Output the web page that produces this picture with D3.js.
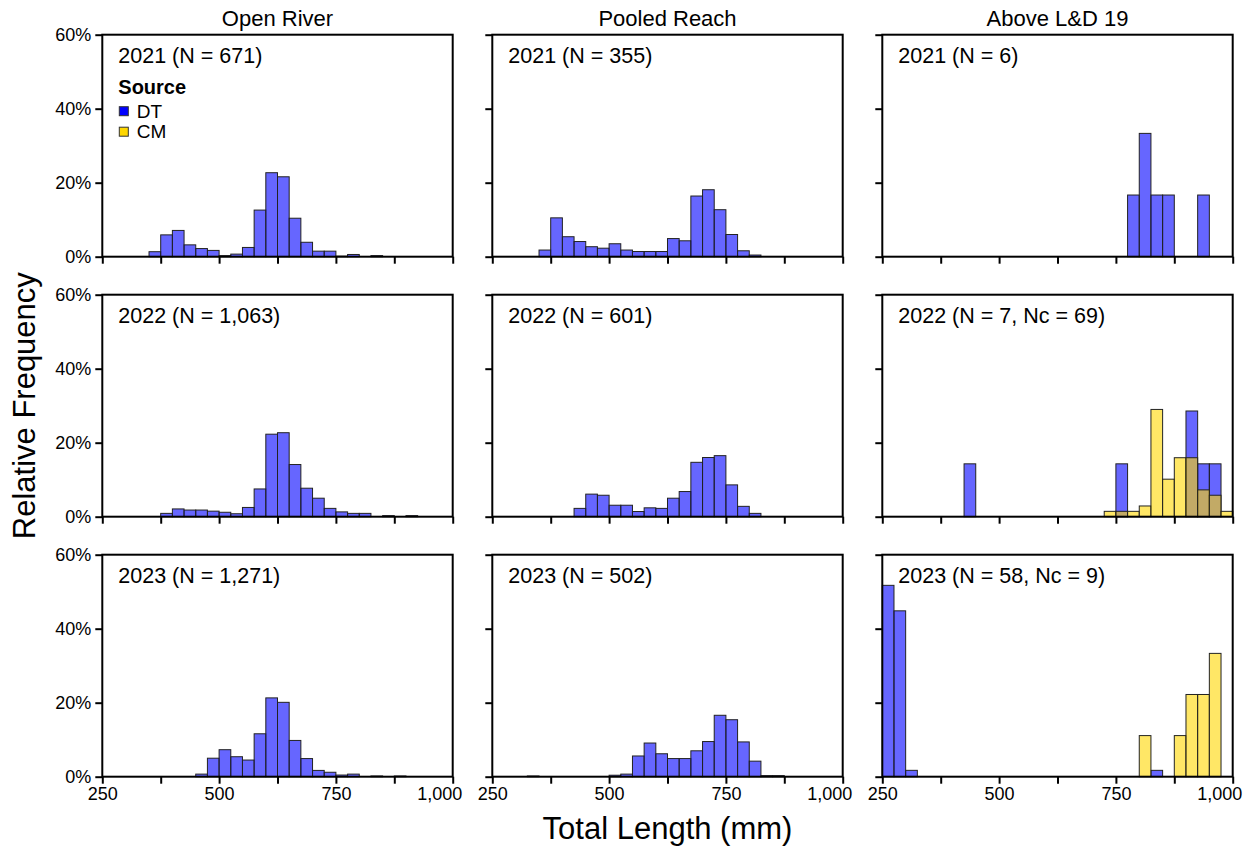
<!DOCTYPE html>
<html>
<head>
<meta charset="utf-8">
<script src="https://cdn.jsdelivr.net/npm/d3@7"></script>
<style>
  html, body { margin: 0; padding: 0; background: #fff; }
  svg { display: block; font-family: "Liberation Sans", Arial, sans-serif; }
</style>
</head>
<body>
<svg id="chart" width="1253" height="848"></svg>
<script>
// Length bins (lower edge, mm); every bin is 25 mm wide
const binStarts = [250, 275, 300, 325, 350, 375, 400, 425, 450, 475,
                   500, 525, 550, 575, 600, 625, 650, 675, 700, 725,
                   750, 775, 800, 825, 850, 875, 900, 925, 950, 975];
const binWidth = 25;

const reaches = ["Open River", "Pooled Reach", "Above L&D 19"];
const years = [2021, 2022, 2023];
const xTicks = [250, 375, 500, 625, 750, 875, 1000];
const xTickLabels = [250, 500, 750, 1000];
const yTicks = [0, 20, 40, 60];

const panelLabels = [
  ["2021 (N = 671)", "2021 (N = 355)", "2021 (N = 6)"],
  ["2022 (N = 1,063)", "2022 (N = 601)", "2022 (N = 7, Nc = 69)"],
  ["2023 (N = 1,271)", "2023 (N = 502)", "2023 (N = 58, Nc = 9)"]
];

// Relative frequency (%) per bin, DT source
const openRiver2021 = [0, 0, 0, 0, 1.35, 5.9, 7.1, 3.2, 2.2, 1.7, 0.3, 0.7, 2.5, 12.6, 22.7, 21.6, 10.4, 3.9, 1.5, 1.5, 0.15, 0.6, 0, 0.3, 0, 0, 0, 0, 0, 0];
const pooled2021    = [0, 0, 0, 0, 1.8, 10.5, 5.4, 4.1, 2.7, 2.3, 3.5, 1.8, 1.4, 1.4, 1.4, 4.9, 4.3, 16.4, 18.1, 12.7, 6.0, 1.6, 0.45, 0, 0, 0, 0, 0, 0, 0];
const above2021     = [0, 0, 0, 0, 0, 0, 0, 0, 0, 0, 0, 0, 0, 0, 0, 0, 0, 0, 0, 0, 0, 16.67, 33.33, 16.67, 16.67, 0, 0, 16.67, 0, 0];
const openRiver2022 = [0, 0, 0, 0, 0, 0.9, 2.1, 1.8, 1.8, 1.5, 1.2, 0.8, 2.5, 7.5, 22.3, 22.7, 14.1, 7.7, 5.0, 2.25, 1.3, 0.9, 0.9, 0, 0.3, 0, 0.3, 0, 0, 0];
const pooled2022    = [0, 0, 0, 0, 0, 0, 0, 2.25, 6.1, 5.8, 3.1, 3.1, 1.4, 2.4, 2.25, 5.0, 6.8, 14.7, 16.0, 16.5, 8.6, 2.8, 0.9, 0, 0, 0, 0, 0, 0, 0];
const above2022     = [0, 0, 0, 0, 0, 0, 0, 14.29, 0, 0, 0, 0, 0, 0, 0, 0, 0, 0, 0, 0, 14.29, 0, 0, 0, 0, 0, 28.57, 14.29, 14.29, 0];
const openRiver2023 = [0, 0, 0, 0, 0, 0, 0, 0, 0.7, 5.0, 7.3, 5.4, 4.5, 11.6, 21.3, 20.1, 9.8, 4.9, 1.7, 1.2, 0.45, 0.7, 0, 0.2, 0, 0.2, 0, 0, 0, 0];
const pooled2023    = [0, 0, 0, 0.2, 0, 0, 0, 0, 0, 0, 0.4, 0.7, 5.6, 9.1, 6.2, 4.9, 4.9, 7.0, 9.5, 16.6, 15.4, 9.4, 4.2, 0.3, 0.3, 0, 0, 0, 0, 0];
const above2023     = [51.72, 44.83, 1.72, 0, 0, 0, 0, 0, 0, 0, 0, 0, 0, 0, 0, 0, 0, 0, 0, 0, 0, 0, 0, 1.72, 0, 0, 0, 0, 0, 0];

// Relative frequency (%) per bin, CM source (Above L&D 19 only)
const aboveCM2022 = [0, 0, 0, 0, 0, 0, 0, 0, 0, 0, 0, 0, 0, 0, 0, 0, 0, 0, 0, 1.45, 1.45, 1.45, 2.9, 28.99, 10.14, 15.94, 15.94, 7.25, 5.8, 1.45];
const aboveCM2023 = [0, 0, 0, 0, 0, 0, 0, 0, 0, 0, 0, 0, 0, 0, 0, 0, 0, 0, 0, 0, 0, 0, 11.11, 0, 0, 11.11, 22.22, 22.22, 33.33, 0];

const dtSeries = [
  [openRiver2021, pooled2021, above2021],
  [openRiver2022, pooled2022, above2022],
  [openRiver2023, pooled2023, above2023]
];
const cmSeries = [
  [null, null, null],
  [null, null, aboveCM2022],
  [null, null, aboveCM2023]
];

const sources = ["DT", "CM"];
const sourceColor = { DT: "#0000ff", CM: "#ffd700" };

// Layout
const panelW = 350.4, panelH = 222;
const left0 = 102.3, top0 = 34.7;
const colStep = 390, rowStep = 260;

const svg = d3.select("#chart");
svg.append("rect").attr("width", 1253).attr("height", 848).attr("fill", "#fff");

const x = d3.scaleLinear().domain([250, 1000]).range([0, panelW]);
const y = d3.scaleLinear().domain([0, 60]).range([panelH, 0]);

function drawBars(g, values, src) {
  const data = binStarts.map((b, i) => ({ b, v: values[i] })).filter(d => d.v > 0);
  g.append("g").selectAll("rect").data(data).join("rect")
    .attr("x", d => x(d.b))
    .attr("width", d => x(d.b + binWidth) - x(d.b))
    .attr("y", d => y(d.v))
    .attr("height", d => y(0) - y(d.v))
    .attr("fill", sourceColor[src])
    .attr("fill-opacity", 0.6)
    .attr("stroke", "#222")
    .attr("stroke-width", 1);
}

const lastRow = years.length - 1;

for (let r = 0; r < years.length; r++) {
  for (let c = 0; c < reaches.length; c++) {
    const g = svg.append("g")
      .attr("transform", `translate(${left0 + c * colStep},${top0 + r * rowStep})`);

    drawBars(g, dtSeries[r][c], "DT");
    if (cmSeries[r][c]) drawBars(g, cmSeries[r][c], "CM");

    // frame
    g.append("rect")
      .attr("width", panelW).attr("height", panelH)
      .attr("fill", "none").attr("stroke", "#000").attr("stroke-width", 2);

    // x axis (labels on the bottom row only)
    const xa = g.append("g").attr("transform", `translate(0,${panelH})`)
      .call(d3.axisBottom(x).tickValues(xTicks).tickSize(7).tickPadding(4)
        .tickFormat(d => (r === lastRow && xTickLabels.includes(d)) ? d3.format(",")(d) : ""));
    xa.select(".domain").remove();
    xa.selectAll(".tick line").attr("stroke", "#000").attr("stroke-width", 2);
    xa.selectAll(".tick text")
      .attr("font-size", 18).attr("fill", "#000")
      .attr("font-family", "Liberation Sans, Arial, sans-serif");
    xa.selectAll(".tick").filter(d => d === 1000).select("text")
      .attr("text-anchor", "end").attr("x", 9);

    // y axis (labels on the left column only)
    const ya = g.append("g")
      .call(d3.axisLeft(y).tickValues(yTicks).tickSize(7).tickPadding(4)
        .tickFormat(d => c === 0 ? d + "%" : ""));
    ya.select(".domain").remove();
    ya.selectAll(".tick line").attr("stroke", "#000").attr("stroke-width", 2);
    ya.selectAll(".tick text")
      .attr("font-size", 18).attr("fill", "#000")
      .attr("font-family", "Liberation Sans, Arial, sans-serif");

    // panel label
    g.append("text")
      .attr("x", 16).attr("y", 28.6)
      .attr("font-size", 21.5).attr("fill", "#000")
      .text(panelLabels[r][c]);

    // column titles
    if (r === 0) {
      g.append("text")
        .attr("x", panelW / 2).attr("y", -9)
        .attr("text-anchor", "middle")
        .attr("font-size", 22).attr("fill", "#000")
        .text(reaches[c]);
    }

    // legend
    if (r === 0 && c === 0) {
      const lg = g.append("g").attr("transform", "translate(16,0)");
      lg.append("text").attr("x", 0).attr("y", 59.3)
        .attr("font-size", 20).attr("font-weight", "bold").attr("fill", "#000")
        .text("Source");
      sources.forEach((s, i) => {
        lg.append("rect")
          .attr("x", 1).attr("y", 72 + i * 20.5)
          .attr("width", 9).attr("height", 9)
          .attr("fill", sourceColor[s])
          .attr("stroke", "#333").attr("stroke-width", 1);
        lg.append("text")
          .attr("x", 18.4).attr("y", 83 + i * 20.6)
          .attr("font-size", 19).attr("fill", "#000")
          .text(s);
      });
    }
  }
}

// axis titles
const plotCx = left0 + (2 * colStep + panelW) / 2;
const plotCy = top0 + (2 * rowStep + panelH) / 2;
svg.append("text")
  .attr("x", plotCx).attr("y", 839)
  .attr("text-anchor", "middle")
  .attr("font-size", 31).attr("fill", "#000")
  .text("Total Length (mm)");
svg.append("text")
  .attr("transform", `translate(35,${plotCy}) rotate(-90)`)
  .attr("text-anchor", "middle")
  .attr("font-size", 31).attr("fill", "#000")
  .text("Relative Frequency");
</script>
</body>
</html>
